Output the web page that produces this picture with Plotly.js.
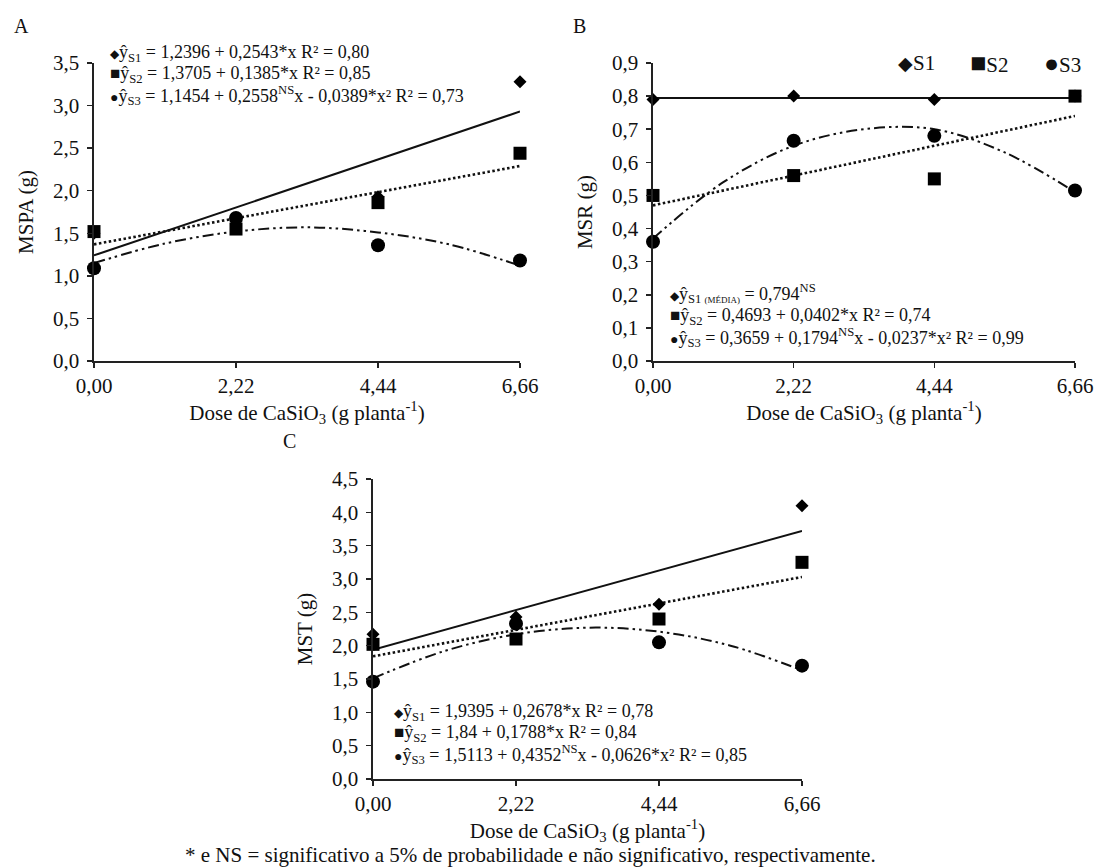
<!DOCTYPE html>
<html>
<head>
<meta charset="utf-8">
<script src="https://cdn.plot.ly/plotly-3.0.1.min.js"></script>
<style>html,body{margin:0;padding:0;background:#fff;}#chart{width:1100px;height:868px;}</style>
</head>
<body>
<div id="chart"></div>
<script>
// ---------- data ----------
const doses = [0, 2.22, 4.44, 6.66];
const doseTickText = ['0,00', '2,22', '4,44', '6,66'];

// Panel A - MSPA (g)
const A_S1 = [1.50, 1.64, 1.93, 3.28];
const A_S2 = [1.52, 1.55, 1.86, 2.44];
const A_S3 = [1.09, 1.68, 1.36, 1.18];
// Panel B - MSR (g)
const B_S1 = [0.79, 0.80, 0.79, 0.80];
const B_S2 = [0.50, 0.56, 0.55, 0.80];
const B_S3 = [0.36, 0.665, 0.68, 0.515];
// Panel C - MST (g)
const C_S1 = [2.17, 2.43, 2.62, 4.10];
const C_S2 = [2.02, 2.10, 2.40, 3.25];
const C_S3 = [1.46, 2.33, 2.05, 1.70];

// fitted curves
const fitXLin = [0, 6.66];
const fitXQuad = [0, 1.11, 2.22, 3.33, 4.44, 5.55, 6.66];
const A_S1_fit = [1.24, 2.93];
const A_S2_fit = [1.37, 2.29];
const A_S3_fit = [1.15, 1.38, 1.52, 1.57, 1.51, 1.37, 1.12];
const B_S1_fit = [0.794, 0.794];
const B_S2_fit = [0.47, 0.74];
const B_S3_fit = [0.37, 0.54, 0.65, 0.70, 0.70, 0.63, 0.51];
const C_S1_fit = [1.94, 3.72];
const C_S2_fit = [1.84, 3.03];
const C_S3_fit = [1.51, 1.92, 2.17, 2.27, 2.21, 2.00, 1.63];

// tick labels
const A_yTicks = [0, 0.5, 1, 1.5, 2, 2.5, 3, 3.5];
const A_yTickText = ['0,0', '0,5', '1,0', '1,5', '2,0', '2,5', '3,0', '3,5'];
const B_yTicks = [0, 0.1, 0.2, 0.3, 0.4, 0.5, 0.6, 0.7, 0.8, 0.9];
const B_yTickText = ['0,0', '0,1', '0,2', '0,3', '0,4', '0,5', '0,6', '0,7', '0,8', '0,9'];
const C_yTicks = [0, 0.5, 1, 1.5, 2, 2.5, 3, 3.5, 4, 4.5];
const C_yTickText = ['0,0', '0,5', '1,0', '1,5', '2,0', '2,5', '3,0', '3,5', '4,0', '4,5'];

const seriesNames = ['S1', 'S2', 'S3'];

// equation texts
const sD = '<span style="font-size:12px">◆</span>';
const sS = '<span style="font-size:17px">■</span>';
const sC = '<span style="font-size:14px">●</span>';
const eqA = [
  sD + 'ŷ<sub>S1</sub> = 1,2396 + 0,2543*x R² = 0,80',
  sS + 'ŷ<sub>S2</sub> = 1,3705 + 0,1385*x R² = 0,85',
  sC + 'ŷ<sub>S3</sub> = 1,1454 + 0,2558<sup>NS</sup>x - 0,0389*x² R² = 0,73'
];
const eqB = [
  sD + 'ŷ<sub>S1 <span style="font-size:9px">(MÉDIA)</span></sub> = 0,794<sup>NS</sup>',
  sS + 'ŷ<sub>S2</sub> = 0,4693 + 0,0402*x R² = 0,74',
  sC + 'ŷ<sub>S3</sub> = 0,3659 + 0,1794<sup>NS</sup>x - 0,0237*x² R² = 0,99'
];
const eqC = [
  sD + 'ŷ<sub>S1</sub> = 1,9395 + 0,2678*x R² = 0,78',
  sS + 'ŷ<sub>S2</sub> = 1,84 + 0,1788*x R² = 0,84',
  sC + 'ŷ<sub>S3</sub> = 1,5113 + 0,4352<sup>NS</sup>x - 0,0626*x² R² = 0,85'
];
const footnote = '* e NS = significativo a 5% de probabilidade e não significativo, respectivamente.';
const xTitle = 'Dose de CaSiO<sub>3</sub> (g planta<sup>-1</sup>)';

// ---------- drawing ----------
const W = 1100, H = 868;
const FONT = 'Liberation Serif, Times New Roman, serif';
const INK = '#111';
const px = p => p / W;
const py = p => 1 - p / H;

const symbols = ['diamond', 'square', 'circle'];
const sizes = [10, 13, 14];
const widths = [2, 2.6, 2];
const dashes = ['solid', '2.5px,2.5px', '11px,4px,2.5px,4px,2.5px,4px'];

const traces = [];
function addPanel(xa, ya, pts, fits) {
  fits.forEach((f, i) => {
    traces.push({
      x: f.x, y: f.y, xaxis: xa, yaxis: ya, type: 'scatter', mode: 'lines',
      line: {color: '#111', width: widths[i], dash: dashes[i], shape: f.x.length > 2 ? 'spline' : 'linear'},
      hoverinfo: 'skip', showlegend: false
    });
  });
  pts.forEach((p, i) => {
    traces.push({
      x: doses, y: p, xaxis: xa, yaxis: ya, type: 'scatter', mode: 'markers',
      name: seriesNames[i], cliponaxis: false,
      marker: {symbol: symbols[i], size: sizes[i], color: '#000'},
      showlegend: false
    });
  });
}
addPanel('x', 'y', [A_S1, A_S2, A_S3], [
  {x: fitXLin, y: A_S1_fit}, {x: fitXLin, y: A_S2_fit}, {x: fitXQuad, y: A_S3_fit}]);
addPanel('x2', 'y2', [B_S1, B_S2, B_S3], [
  {x: fitXLin, y: B_S1_fit}, {x: fitXLin, y: B_S2_fit}, {x: fitXQuad, y: B_S3_fit}]);
addPanel('x3', 'y3', [C_S1, C_S2, C_S3], [
  {x: fitXLin, y: C_S1_fit}, {x: fitXLin, y: C_S2_fit}, {x: fitXQuad, y: C_S3_fit}]);

function xAxis(dom, anchor) {
  return {
    domain: [px(dom[0]), px(dom[1])], anchor: anchor, range: [0, 6.66],
    tickvals: doses, ticktext: doseTickText, ticks: 'outside', ticklen: 5, tickwidth: 1.5,
    tickcolor: '#222', showline: true, linecolor: '#222', linewidth: 1.6,
    showgrid: false, zeroline: false, automargin: false, fixedrange: true,
    tickfont: {family: FONT, size: 21, color: INK},
    title: {text: xTitle, font: {family: FONT, size: 21, color: INK}, standoff: 5}
  };
}
function yAxis(dom, anchor, range, tv, tt, title) {
  return {
    domain: [py(dom[1]), py(dom[0])], anchor: anchor, range: range,
    tickvals: tv, ticktext: tt, ticks: 'outside', ticklen: 5, tickwidth: 1.5,
    tickcolor: '#222', showline: true, linecolor: '#222', linewidth: 1.6,
    showgrid: false, zeroline: false, automargin: false, fixedrange: true,
    ticklabelstandoff: 4,
    tickfont: {family: FONT, size: 21, color: INK},
    title: {text: title, font: {family: FONT, size: 21, color: INK}, standoff: 13}
  };
}

const annotations = [];
function note(text, x, y, size, anchor) {
  annotations.push({text: text, xref: 'paper', yref: 'paper', x: px(x), y: py(y),
    xanchor: anchor || 'left', yanchor: 'middle', showarrow: false,
    font: {family: FONT, size: size, color: INK}});
}
note('A', 12, 26, 20);
note('B', 571, 26, 20);
note('C', 281, 441, 20);
eqA.forEach((t, i) => note(t, 108, [53, 74, 95][i], 18));
eqB.forEach((t, i) => note(t, 668, [294, 316, 337][i], 18));
eqC.forEach((t, i) => note(t, 392, [712, 733, 754][i], 18));
// legend of panel B
note('<span style="font-size:19px">◆</span>' + seriesNames[0], 896, 63, 21);
note('<span style="font-size:27px">■</span>' + seriesNames[1], 968, 63, 21);
note('<span style="font-size:25px">●</span>' + seriesNames[2], 1042, 63, 21);
note(footnote, 530, 855, 21, 'center');

const layout = {
  width: W, height: H, margin: {l: 0, r: 0, t: 0, b: 0, pad: 0},
  paper_bgcolor: '#fff', plot_bgcolor: '#fff', showlegend: false,
  font: {family: FONT, color: INK},
  xaxis: xAxis([94, 520], 'y'),
  yaxis: yAxis([63, 361], 'x', [0, 3.5], A_yTicks, A_yTickText, 'MSPA (g)'),
  xaxis2: xAxis([653, 1075], 'y2'),
  yaxis2: yAxis([63, 361], 'x2', [0, 0.9], B_yTicks, B_yTickText, 'MSR (g)'),
  xaxis3: xAxis([373, 802], 'y3'),
  yaxis3: yAxis([479, 779], 'x3', [0, 4.5], C_yTicks, C_yTickText, 'MST (g)'),
  annotations: annotations
};
Plotly.newPlot('chart', traces, layout, {displayModeBar: false, staticPlot: true});
</script>
</body>
</html>
